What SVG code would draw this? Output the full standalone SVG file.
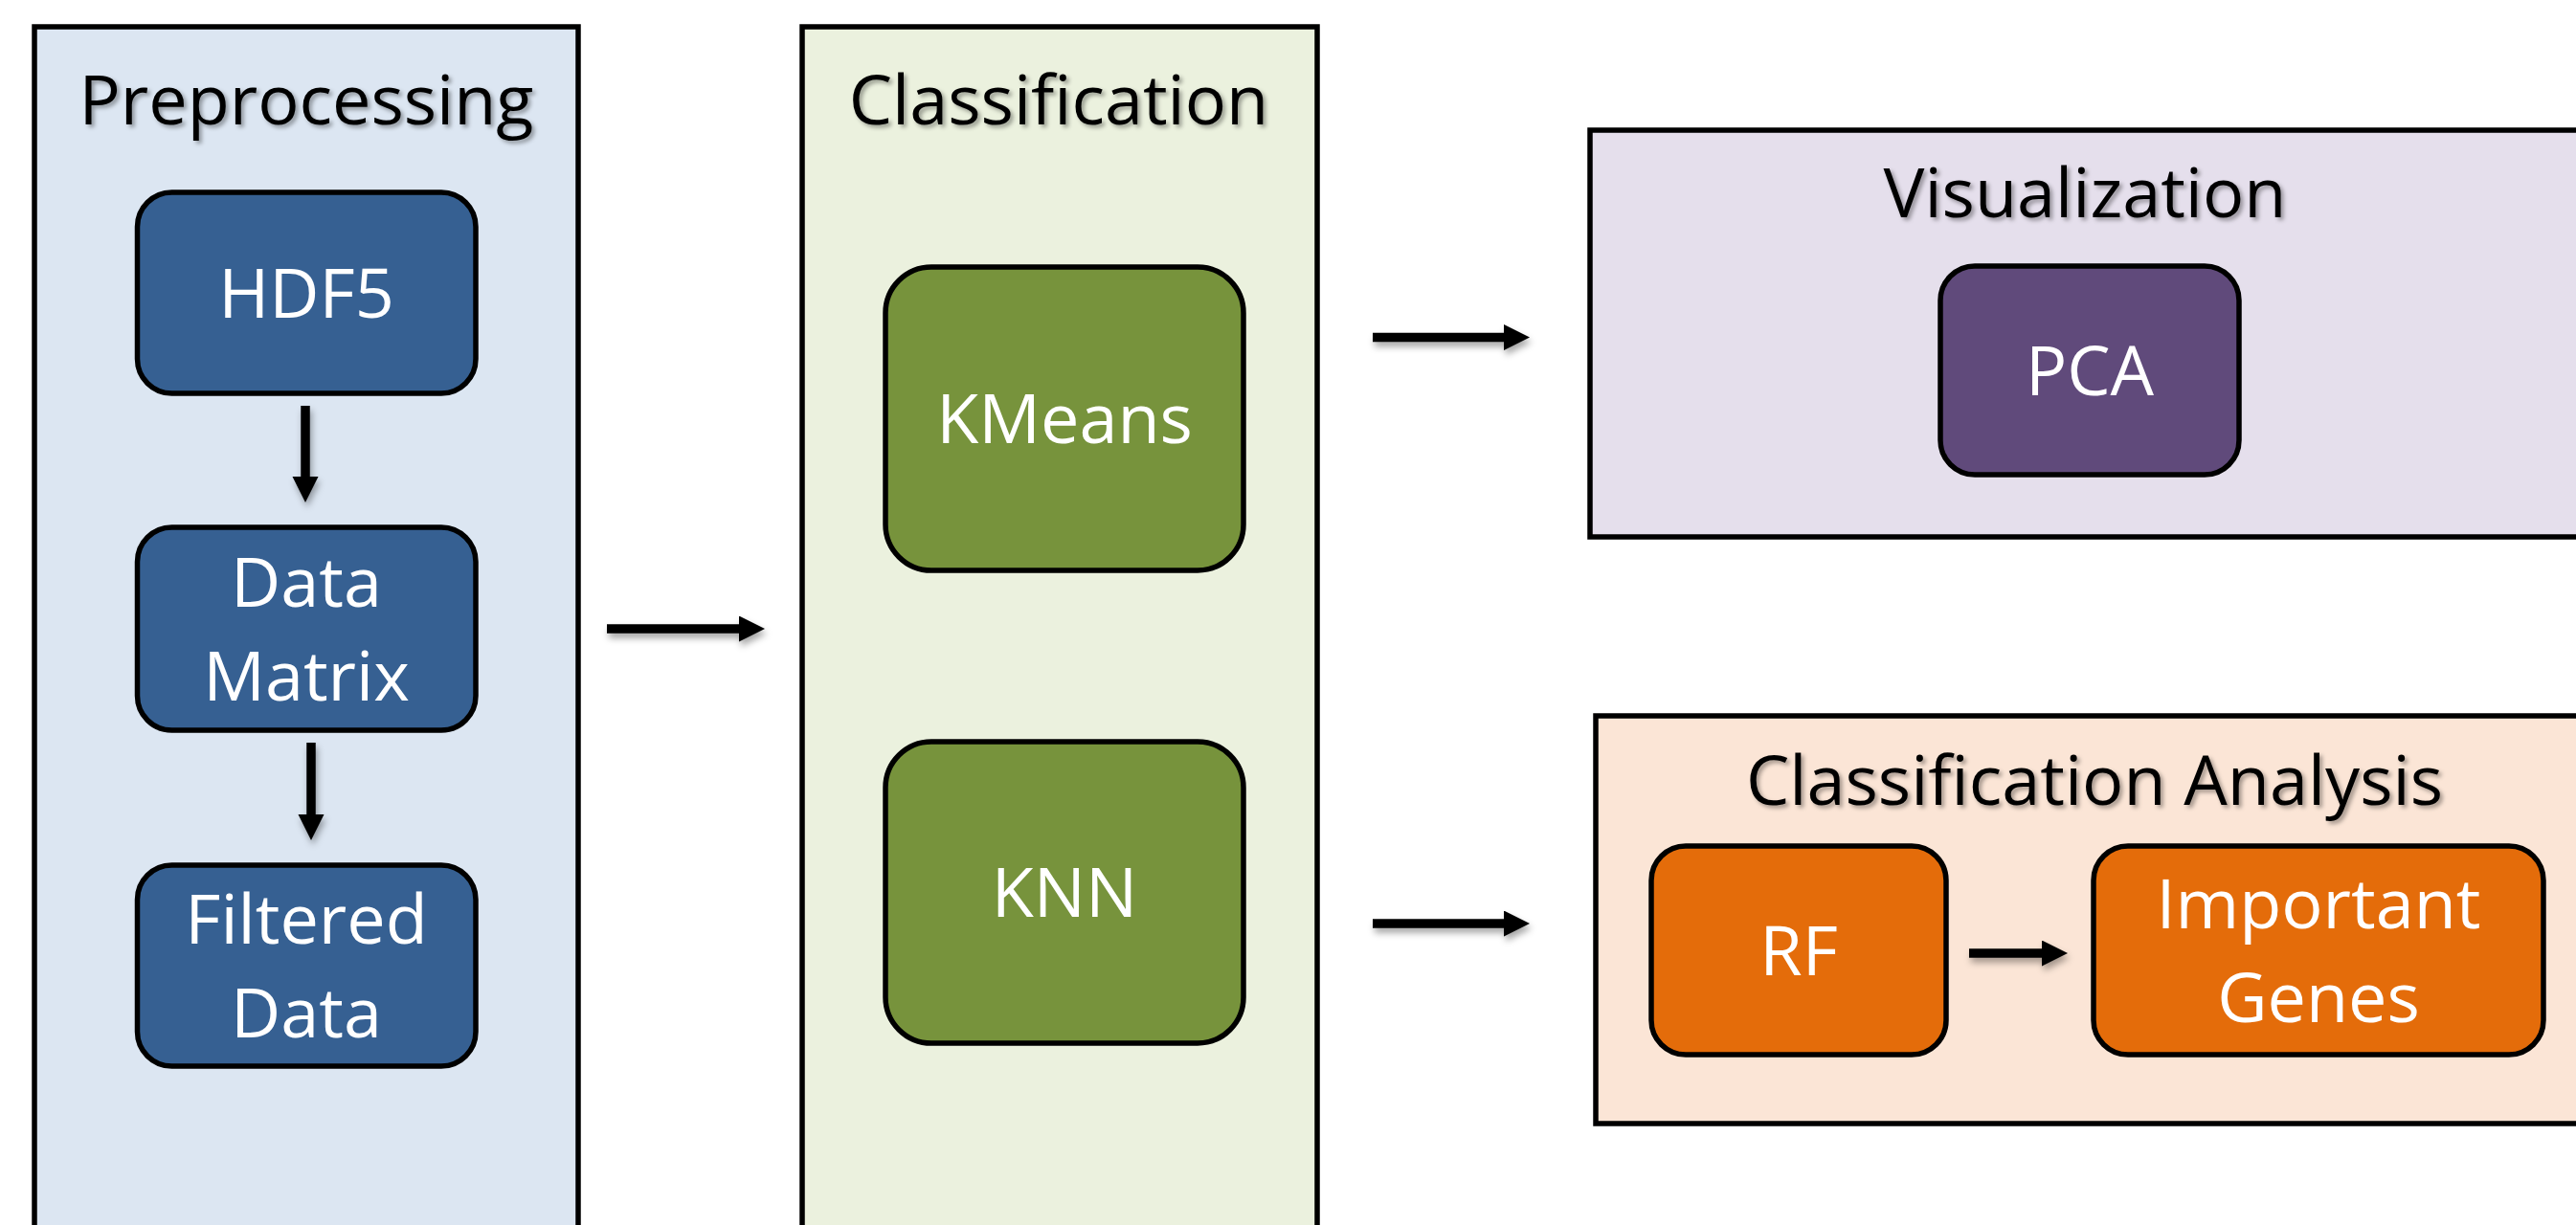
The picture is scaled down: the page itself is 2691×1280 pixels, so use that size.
<svg xmlns="http://www.w3.org/2000/svg" width="2691" height="1280" viewBox="0 0 2691 1280">
<style>
.panel{stroke:#000;stroke-width:5.5}
.node{stroke:#000;stroke-width:5.5}
.title{font-family:"Open Sans","Liberation Sans",sans-serif;font-size:72px;fill:#000;text-anchor:middle}
.label{font-family:"Open Sans","Liberation Sans",sans-serif;font-size:72px;fill:#fff;text-anchor:middle}
.conn{stroke:#000;stroke-width:9.5;fill:none}
</style>
<defs>
<filter id="sh" x="-10%" y="-10%" width="130%" height="140%">
<feDropShadow dx="3" dy="3" stdDeviation="2" flood-color="#000" flood-opacity="0.35"/>
</filter>
<filter id="ash" x="-20%" y="-40%" width="140%" height="200%">
<feDropShadow dx="2" dy="5" stdDeviation="3.5" flood-color="#000" flood-opacity="0.35"/>
</filter>
<marker id="ah" markerUnits="userSpaceOnUse" markerWidth="28" markerHeight="28" refX="0" refY="13.5" orient="auto">
<path d="M0,0 L27,13.5 L0,27 z" fill="#000"/>
</marker>
</defs>
<rect width="2691" height="1280" fill="#fff"/>

<g id="preprocessing">
<rect class="panel" x="36" y="28" width="568" height="1280" fill="#dce6f2"/>
<text class="title" x="320" y="129.5" filter="url(#sh)">Preprocessing</text>
</g>
<g id="classification">
<rect class="panel" x="838" y="28" width="538" height="1280" fill="#ebf1de"/>
<text class="title" x="1106" y="129.5" filter="url(#sh)">Classification</text>
</g>
<g id="visualization">
<rect class="panel" x="1661" y="136" width="1040" height="425" fill="#e5dfec"/>
<text class="title" x="2178" y="227" filter="url(#sh)">Visualization</text>
</g>
<g id="classification-analysis">
<rect class="panel" x="1667" y="748" width="1040" height="426" fill="#fbe5d6"/>
<text class="title" x="2188" y="841" filter="url(#sh)">Classification Analysis</text>
</g>

<g id="hdf5">
<rect class="node" x="143.5" y="201" width="353.5" height="210" rx="36" fill="#366092"/>
<text class="label" x="320" y="332">HDF5</text>
</g>
<g id="data-matrix">
<rect class="node" x="143.5" y="551" width="353.5" height="212" rx="36" fill="#366092"/>
<text class="label" x="320" y="634">Data</text>
<text class="label" x="320" y="732">Matrix</text>
</g>
<g id="filtered-data">
<rect class="node" x="143.5" y="904" width="353.5" height="210" rx="36" fill="#366092"/>
<text class="label" x="320" y="986">Filtered</text>
<text class="label" x="320" y="1084">Data</text>
</g>
<g id="kmeans">
<rect class="node" x="925" y="279" width="374" height="317" rx="48" fill="#77933c"/>
<text class="label" x="1112" y="463">KMeans</text>
</g>
<g id="knn">
<rect class="node" x="925" y="775" width="374" height="315" rx="48" fill="#77933c"/>
<text class="label" x="1112" y="958">KNN</text>
</g>
<g id="pca">
<rect class="node" x="2027" y="278" width="312" height="218" rx="36" fill="#604a7b"/>
<text class="label" x="2183" y="413">PCA</text>
</g>
<g id="rf">
<rect class="node" x="1725" y="884" width="308" height="218" rx="36" fill="#e46c0a"/>
<text class="label" x="1879" y="1019">RF</text>
</g>
<g id="important-genes">
<rect class="node" x="2187" y="884" width="470" height="218" rx="36" fill="#e46c0a"/>
<text class="label" x="2422" y="970">Important</text>
<text class="label" x="2422" y="1068">Genes</text>
</g>

<g id="connectors" filter="url(#ash)">
<path class="conn" d="M319,424 V498" marker-end="url(#ah)"/>
<path class="conn" d="M325,776 V851" marker-end="url(#ah)"/>
<path class="conn" d="M634,657 H772" marker-end="url(#ah)"/>
<path class="conn" d="M1434,352.5 H1571" marker-end="url(#ah)"/>
<path class="conn" d="M1434,965 H1571" marker-end="url(#ah)"/>
<path class="conn" d="M2057,996 H2133" marker-end="url(#ah)"/>
</g>
</svg>
